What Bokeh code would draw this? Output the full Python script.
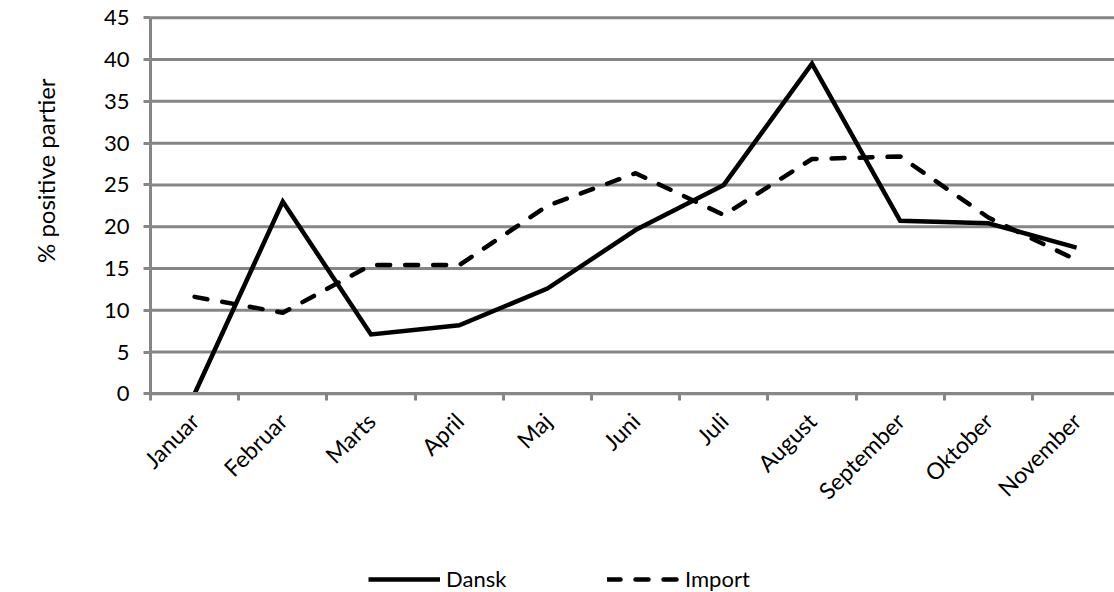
import math
from bokeh.plotting import figure
from bokeh.models import (Range1d, FixedTicker, Legend, LegendItem, Label)
from bokeh.embed import file_html
from bokeh.resources import INLINE

# Monthly share of positive lots, domestic vs imported
months = ["Januar", "Februar", "Marts", "April", "Maj", "Juni", "Juli",
          "August", "September", "Oktober", "November"]
dansk = [0.0, 23.0, 7.1, 8.2, 12.6, 19.6, 25.0, 39.5, 20.7, 20.4, 17.5]
importeret = [11.6, 9.7, 15.4, 15.4, 22.5, 26.4, 21.4, 28.1, 28.4, 21.1, 16.0]
y_ticks = [0, 5, 10, 15, 20, 25, 30, 35, 40, 45]

FONT = "Lato"
GRAY = "#868686"
SIZE = "22px"

x = list(range(len(months)))
x_left, x_right = -0.5, 10.43

# The frame covers the whole canvas; axes sit at fixed data locations so the
# tick labels, axis title and legend all live inside it.
p = figure(width=1114, height=592, output_backend="svg", toolbar_location=None,
           x_range=Range1d(-2.2007, x_right), y_range=Range1d(-23.78, 47.07),
           min_border=0)
p.outline_line_color = None
p.background_fill_color = "white"
p.border_fill_color = "white"
p.xgrid.visible = False
p.ygrid.visible = False

# horizontal grid lines across the plotting area only
p.segment(x0=[x_left] * len(y_ticks), y0=y_ticks, x1=[x_right] * len(y_ticks),
          y1=y_ticks, line_color=GRAY, line_width=3)

# y axis
yax = p.yaxis[0]
yax.fixed_location = x_left
yax.bounds = (0, 45)
yax.ticker = FixedTicker(ticks=y_ticks)
yax.axis_line_color = GRAY
yax.axis_line_width = 3
yax.major_tick_line_color = GRAY
yax.major_tick_line_width = 3
yax.major_tick_out = 7
yax.major_tick_in = 0
yax.minor_tick_line_color = None
yax.major_label_text_font = FONT
yax.major_label_text_font_size = SIZE
yax.major_label_text_color = "black"
yax.major_label_standoff = 14

# x axis: labels at month centres, tick marks on month boundaries
xax = p.xaxis[0]
xax.fixed_location = 0
xax.bounds = (x_left, x_right)
xax.ticker = FixedTicker(ticks=x, minor_ticks=[i - 0.5 for i in range(len(months) + 1)])
xax.major_label_overrides = {i: m for i, m in enumerate(months)}
xax.major_label_orientation = math.pi / 4
xax.axis_line_color = GRAY
xax.axis_line_width = 3
xax.major_tick_line_color = None
xax.minor_tick_line_color = GRAY
xax.minor_tick_line_width = 3
xax.minor_tick_out = 7
xax.minor_tick_in = 0
xax.major_label_text_font = FONT
xax.major_label_text_font_size = "23px"
xax.major_label_text_color = "black"
xax.major_label_standoff = 16

r_dansk = p.line(x, dansk, line_color="black", line_width=4.5, line_join="miter")
r_import = p.line(x, importeret, line_color="black", line_width=4.5,
                  line_dash="13 15", line_cap="round", line_join="round")

for item, loc in ((LegendItem(label="Dansk", renderers=[r_dansk]), (368, 0)),
                  (LegendItem(label="Import", renderers=[r_import]), (607, 0))):
    lg = Legend(items=[item], location=loc, orientation="horizontal",
                glyph_width=72, glyph_height=18, label_height=18, label_standoff=6,
                padding=0, margin=0, border_line_color=None,
                background_fill_alpha=0,
                label_text_font=FONT, label_text_font_size=SIZE,
                label_text_color="black")
    p.add_layout(lg, "center")

p.add_layout(Label(x=-1.69, y=26.7, text="% positive partier", angle=math.pi / 2,
                   text_align="center", text_baseline="middle",
                   text_font=FONT, text_font_size="24px",
                   text_color="black"))

open("out.html", "w").write(file_html(p, INLINE))
